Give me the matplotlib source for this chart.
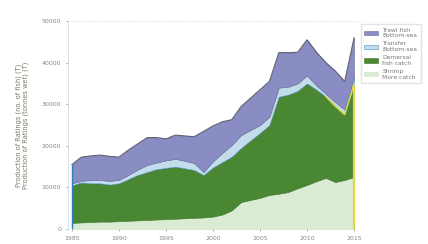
import matplotlib.pyplot as plt

years = list(range(1985, 2016))

# layer thickness per year, bottom to top
shrimp = [1500, 1600, 1700, 1800, 1800, 1900, 2000, 2100, 2200, 2300, 2400,
          2500, 2600, 2700, 2800, 3000, 3500, 4500, 6500, 7000, 7500, 8200,
          8500, 8900, 9800, 10600, 11500, 12300, 11300, 11800, 12500]
demersal = [9000, 9600, 9300, 9200, 8900, 9100, 10000, 10900, 11500, 12100,
            12300, 12500, 12000, 11500, 10200, 11800, 12600, 12900, 13000,
            14300, 15600, 16800, 23300, 23400, 23400, 24400, 22000, 19500,
            18200, 15700, 22200]
transfer = [500, 400, 800, 800, 900, 800, 1000, 1300, 1700, 1600, 1800, 1900,
            1800, 1700, 700, 1500, 2200, 2800, 3100, 2500, 1900, 2000, 2200,
            1900, 1800, 1900, 1000, 700, 1000, 1200, 1800]
trawl = [4500, 5700, 5800, 6000, 5900, 5500, 6000, 6200, 6600, 6000, 5200,
         5700, 6000, 6300, 9800, 8500, 7500, 6100, 6900, 7700, 8500, 8500,
         8400, 8200, 7500, 8600, 8000, 7500, 7500, 6800, 9500]

labels = ["Trawl fish\nBottom-sea", "Transfer\nBottom-sea",
          "Demersal\nfish catch", "Shrimp\nMore catch"]
colors = ["#8a8dc4", "#c3dcec", "#4a8733", "#d9ebd2"]
edges = ["#6d6b8e", "#4f8fc0", "#3c752b", "#cfe3c8"]

fig = plt.figure(figsize=(4.28, 2.44), dpi=100)
ax = fig.add_axes([0.159, 0.061, 0.677, 0.853])

polys = ax.stackplot(years, shrimp, demersal, transfer, trawl,
                     colors=colors[::-1], edgecolor="none")
for p, e in zip(polys, edges[::-1]):
    p.set_edgecolor(e)
    p.set_linewidth(0.4)

total = [a + b + c + d for a, b, c, d in zip(shrimp, demersal, transfer, trawl)]
green_top = [a + b for a, b in zip(shrimp, demersal)]
ax.plot(years, total, color="#5a5870", lw=0.7)
ax.plot(years[-4:], green_top[-4:], color="#d8d23c", lw=1.0)
ax.vlines(years[-1], 0, green_top[-1], color="#e0d84a", lw=1.6)
ax.vlines(years[0], 0, total[0], color="#2f7fba", lw=1.0)

ax.axhline(50000, color="#cccccc", lw=0.6, ls=":")
ax.axhline(0, color="#bbbbbb", lw=0.6, ls=":")

ax.set_xlim(1984.6, 2015.4)
ax.set_ylim(0, 50000)
ax.set_xticks([1985, 1990, 1995, 2000, 2005, 2010, 2015])
ax.set_yticks([0, 10000, 20000, 30000, 40000, 50000])
ax.tick_params(labelsize=4.5, colors="#888888", length=1.5, width=0.5)
for s in ["top", "right", "bottom"]:
    ax.spines[s].set_visible(False)
ax.spines["left"].set_color("#c8d4e4")
ax.spines["left"].set_linewidth(0.5)

ax.set_ylabel("Production of Ratings (no. of fish) (T)\n"
              "Production of Ratings (tonnes wet) (T)",
              fontsize=4.8, color="#7a7a6a", labelpad=9)

handles = polys[::-1]
leg = ax.legend(handles, labels, loc="upper left", bbox_to_anchor=(1.0, 1.0),
                fontsize=4.3, frameon=True, fancybox=False,
                edgecolor="#dddddd", handlelength=2.2, handleheight=0.7,
                labelspacing=0.5, borderpad=0.6, handletextpad=0.8)
for t in leg.get_texts():
    t.set_color("#777777")

fig.savefig("out.png", dpi=100)
